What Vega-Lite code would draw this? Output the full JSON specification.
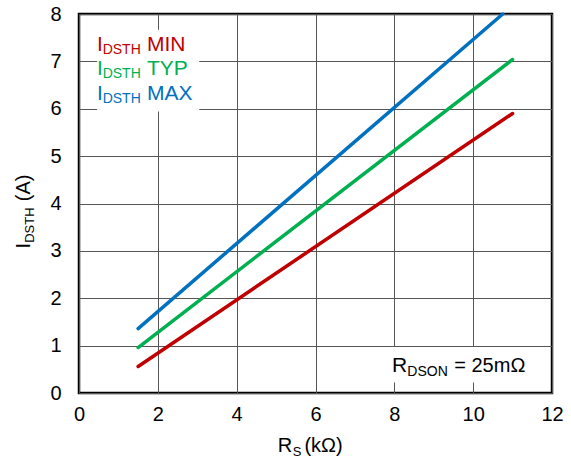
{
  "$schema": "https://vega.github.io/schema/vega-lite/v6.json",
  "width": 473,
  "height": 379,
  "autosize": {"type": "none"},
  "padding": {"left": 79, "top": 14, "right": 19, "bottom": 70},
  "background": "white",
  "config": {
    "font": "Liberation Sans",
    "view": {"stroke": "black", "strokeWidth": 2.5},
    "axis": {
      "domain": false,
      "ticks": false,
      "grid": true,
      "gridColor": "#555555",
      "gridWidth": 1,
      "gridOpacity": 1,
      "labelFont": "Liberation Sans",
      "labelFontSize": 20,
      "labelColor": "black",
      "labelFlush": false,
      "labelOverlap": false,
      "title": null
    },
    "text": {"font": "Liberation Sans", "align": "left", "baseline": "alphabetic"}
  },
  "datasets": {
    "curves": [
      {"series": "MIN", "rs": 1.5, "i": 0.56},
      {"series": "MIN", "rs": 11, "i": 5.9},
      {"series": "TYP", "rs": 1.5, "i": 0.96},
      {"series": "TYP", "rs": 11, "i": 7.04},
      {"series": "MAX", "rs": 1.5, "i": 1.36},
      {"series": "MAX", "rs": 10.75, "i": 8.0}
    ],
    "legend": [
      {"series": "MIN", "word": "MIN", "ly": 7.21},
      {"series": "TYP", "word": "TYP", "ly": 6.72},
      {"series": "MAX", "word": "MAX", "ly": 6.19}
    ],
    "boxes": [
      {"name": "legend", "x1": 0.46, "x2": 3.05, "y1": 5.94, "y2": 7.67},
      {"name": "note", "x1": 7.8, "x2": 11.6, "y1": 0.22, "y2": 0.97}
    ],
    "anchor": [{}]
  },
  "layer": [
    {
      "data": {"name": "boxes"},
      "mark": {"type": "rect", "fill": "white"},
      "encoding": {
        "x": {"field": "x1", "type": "quantitative", "scale": {"domain": [0, 12]}, "axis": {"values": [0, 2, 4, 6, 8, 10, 12], "labelPadding": 11}},
        "x2": {"field": "x2"},
        "y": {"field": "y1", "type": "quantitative", "scale": {"domain": [0, 8]}, "axis": {"values": [0, 1, 2, 3, 4, 5, 6, 7, 8], "labelPadding": 18}},
        "y2": {"field": "y2"}
      }
    },
    {
      "data": {"name": "curves"},
      "mark": {"type": "line", "strokeWidth": 3.5, "strokeCap": "round"},
      "encoding": {
        "x": {"field": "rs", "type": "quantitative"},
        "y": {"field": "i", "type": "quantitative"},
        "color": {"field": "series", "type": "nominal", "scale": {"domain": ["MIN", "TYP", "MAX"], "range": ["#C00000", "#00B050", "#0070C0"]}, "legend": null}
      }
    },
    {
      "data": {"name": "legend"},
      "mark": {"type": "text", "text": "I", "fontSize": 21},
      "encoding": {
        "x": {"datum": 0.457, "type": "quantitative"},
        "y": {"field": "ly", "type": "quantitative"},
        "color": {"field": "series", "type": "nominal", "legend": null}
      }
    },
    {
      "data": {"name": "legend"},
      "mark": {"type": "text", "text": "DSTH", "fontSize": 14, "dy": 3},
      "encoding": {
        "x": {"datum": 0.6, "type": "quantitative"},
        "y": {"field": "ly", "type": "quantitative"},
        "color": {"field": "series", "type": "nominal", "legend": null}
      }
    },
    {
      "data": {"name": "legend"},
      "mark": {"type": "text", "fontSize": 21},
      "encoding": {
        "x": {"datum": 1.726, "type": "quantitative"},
        "y": {"field": "ly", "type": "quantitative"},
        "text": {"field": "word"},
        "color": {"field": "series", "type": "nominal", "legend": null}
      }
    },
    {
      "data": {"name": "anchor"},
      "mark": {"type": "text", "text": "R", "fontSize": 21, "color": "black"},
      "encoding": {"x": {"datum": 7.94, "type": "quantitative"}, "y": {"datum": 0.45, "type": "quantitative"}}
    },
    {
      "data": {"name": "anchor"},
      "mark": {"type": "text", "text": "DSON", "fontSize": 14, "color": "black"},
      "encoding": {"x": {"datum": 8.33, "type": "quantitative"}, "y": {"datum": 0.35, "type": "quantitative"}}
    },
    {
      "data": {"name": "anchor"},
      "mark": {"type": "text", "text": "= 25mΩ", "fontSize": 20, "color": "black"},
      "encoding": {"x": {"datum": 9.52, "type": "quantitative"}, "y": {"datum": 0.45, "type": "quantitative"}}
    },
    {
      "data": {"name": "anchor"},
      "mark": {"type": "text", "text": "R", "fontSize": 20, "color": "black"},
      "encoding": {"x": {"datum": 5.04, "type": "quantitative"}, "y": {"datum": -1.24, "type": "quantitative"}}
    },
    {
      "data": {"name": "anchor"},
      "mark": {"type": "text", "text": "S", "fontSize": 13, "color": "black"},
      "encoding": {"x": {"datum": 5.42, "type": "quantitative"}, "y": {"datum": -1.32, "type": "quantitative"}}
    },
    {
      "data": {"name": "anchor"},
      "mark": {"type": "text", "text": "(kΩ)", "fontSize": 20, "color": "black"},
      "encoding": {"x": {"datum": 5.72, "type": "quantitative"}, "y": {"datum": -1.24, "type": "quantitative"}}
    },
    {
      "data": {"name": "anchor"},
      "mark": {"type": "text", "text": "I", "fontSize": 20, "angle": 270, "color": "black"},
      "encoding": {"x": {"datum": -1.244, "type": "quantitative"}, "y": {"datum": 3.05, "type": "quantitative"}}
    },
    {
      "data": {"name": "anchor"},
      "mark": {"type": "text", "text": "DSTH", "fontSize": 13, "angle": 270, "color": "black"},
      "encoding": {"x": {"datum": -1.13, "type": "quantitative"}, "y": {"datum": 3.17, "type": "quantitative"}}
    },
    {
      "data": {"name": "anchor"},
      "mark": {"type": "text", "text": "(A)", "fontSize": 20, "angle": 270, "color": "black"},
      "encoding": {"x": {"datum": -1.244, "type": "quantitative"}, "y": {"datum": 4.05, "type": "quantitative"}}
    }
  ]
}
